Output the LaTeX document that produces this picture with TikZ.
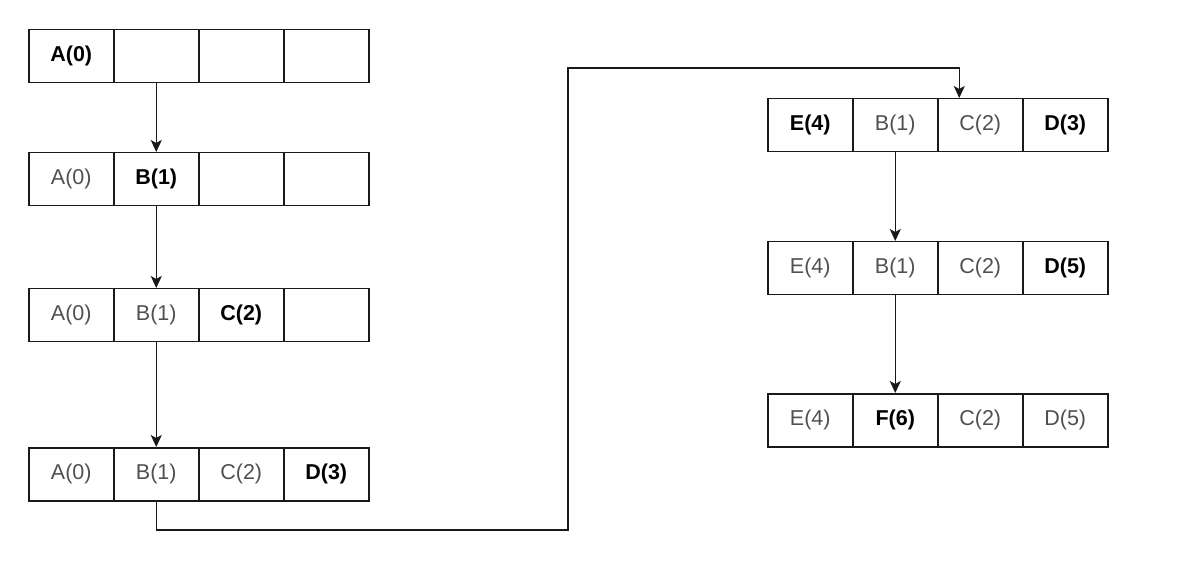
\documentclass[tikz,border=0pt]{standalone}
\usepackage{fontspec}
\setmainfont{Liberation Sans}
\usetikzlibrary{arrows.meta}
\definecolor{txtgrey}{HTML}{505050}
\begin{document}
\begin{tikzpicture}[x=1pt,y=-1pt,
  cell/.style={draw=black!90, line width=1.5pt, minimum width=85pt, minimum height=53pt, inner sep=0pt, anchor=north west, font=\fontsize{21.5}{24}\selectfont, text=txtgrey},
  hot/.style={font=\fontsize{21.5}{24}\selectfont\bfseries, text=black},
  conn/.style={draw=black!90, line width=1.5pt, -{Stealth[length=12pt,width=11pt,inset=3pt]}},
  plain/.style={draw=black!90, line width=1.5pt}]
\useasboundingbox (0,0) rectangle (1200,561);
% left column
\node[cell,hot] (a1) at (28,29) {A(0)};
\node[cell] (a2) at (113,29) {};
\node[cell] (a3) at (198,29) {};
\node[cell] (a4) at (283,29) {};
\node[cell] (b1) at (28,152) {A(0)};
\node[cell,hot] (b2) at (113,152) {B(1)};
\node[cell] (b3) at (198,152) {};
\node[cell] (b4) at (283,152) {};
\node[cell] (c1) at (28,288) {A(0)};
\node[cell] (c2) at (113,288) {B(1)};
\node[cell,hot] (c3) at (198,288) {C(2)};
\node[cell] (c4) at (283,288) {};
\node[cell] (d1) at (28,447) {A(0)};
\node[cell] (d2) at (113,447) {B(1)};
\node[cell] (d3) at (198,447) {C(2)};
\node[cell,hot] (d4) at (283,447) {D(3)};
% right column
\node[cell,hot] (e1) at (767,98) {E(4)};
\node[cell] (e2) at (852,98) {B(1)};
\node[cell] (e3) at (937,98) {C(2)};
\node[cell,hot] (e4) at (1022,98) {D(3)};
\node[cell] (f1) at (767,241) {E(4)};
\node[cell] (f2) at (852,241) {B(1)};
\node[cell] (f3) at (937,241) {C(2)};
\node[cell,hot] (f4) at (1022,241) {D(5)};
\node[cell] (g1) at (767,393) {E(4)};
\node[cell,hot] (g2) at (852,393) {F(6)};
\node[cell] (g3) at (937,393) {C(2)};
\node[cell] (g4) at (1022,393) {D(5)};
% connectors
\draw[conn] (a2.south) -- (b2.north);
\draw[conn] (b2.south) -- (c2.north);
\draw[conn] (c2.south) -- (d2.north);
\coordinate (k1) at (568,530);
\coordinate (k2) at (568,68);
\draw[conn] (d2.south) |- (k1) -- (k2) -| ([xshift=-21pt]e3.north);
\draw[conn] (e2.south) -- (f2.north);
\draw[conn] (f2.south) -- (g2.north);
\end{tikzpicture}
\end{document}
